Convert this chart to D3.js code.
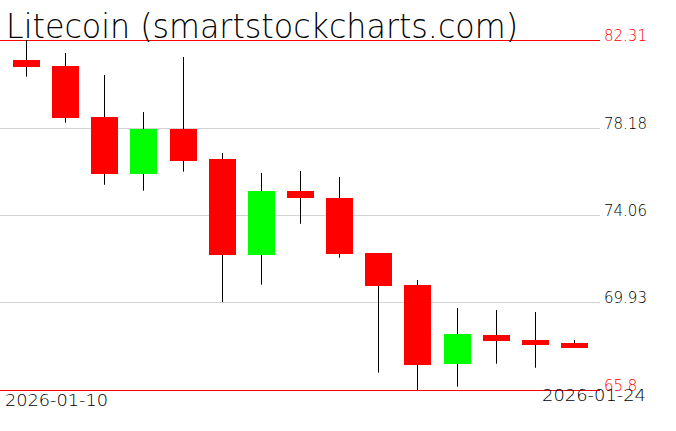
<!DOCTYPE html>
<html><head><meta charset="utf-8">
<script src="https://cdn.jsdelivr.net/npm/d3@7"></script>
<style>html,body{margin:0;padding:0;background:#fff;overflow:hidden}</style>
</head><body>
<svg id="c" width="676" height="431"></svg>
<script>
const dates = ["2026-01-10","2026-01-11","2026-01-12","2026-01-13","2026-01-14","2026-01-15","2026-01-16","2026-01-17","2026-01-18","2026-01-19","2026-01-20","2026-01-21","2026-01-22","2026-01-23","2026-01-24"];
const opens  = [81.37, 81.08, 78.68, 76.00, 78.11, 76.70, 72.18, 75.19, 74.86, 72.26, 70.77, 67.04, 68.39, 68.16, 68.02];
const closes = [81.04, 78.64, 76.00, 78.11, 76.62, 72.18, 75.19, 74.87, 72.23, 70.72, 66.99, 68.44, 68.13, 67.94, 67.80];
const highs  = [82.31, 81.70, 80.66, 78.91, 81.51, 76.97, 76.04, 76.13, 75.85, 72.26, 70.99, 69.67, 69.57, 69.48, 68.16];
const lows   = [80.58, 78.41, 75.48, 75.20, 76.10, 69.95, 70.77, 73.64, 72.04, 66.62, 65.80, 65.96, 67.04, 66.85, 67.78];
const tickValues = [82.31, 78.18, 74.06, 69.93, 65.8];
const tickLabels = ["82.31", "78.18", "74.06", "69.93", "65.8"];
const title = "Litecoin (smartstockcharts.com)";

const svg = d3.select("#c");
const y = d3.scaleLinear().domain([65.8, 82.31]).range([390, 40]);
const x = d3.scalePoint().domain(dates).range([26.5, 574.5]);
const bw = Math.round(x.step() * 0.69);
const font = "'DejaVu Sans', sans-serif";

// grid lines and labels
tickValues.forEach((v, i) => {
  const edge = (i === 0 || i === tickValues.length - 1);
  const yy = Math.round(y(v)) + 0.5;
  svg.append("line").attr("x1", 0).attr("x2", 600).attr("y1", yy).attr("y2", yy)
    .attr("stroke", edge ? "#ff0000" : "#d3d3d3").attr("stroke-width", 1);
  svg.append("text").attr("x", 604).attr("y", Math.round(y(v)) + 1)
    .attr("font-family", font).attr("font-weight", 200).attr("font-size", 15)
    .attr("fill", edge ? "#ff0000" : "#000").text(tickLabels[i]);
});

// candles
const data = dates.map((d, i) => ({d, o: opens[i], c: closes[i], h: highs[i], l: lows[i]}));
const g = svg.append("g");
g.selectAll("line.wick").data(data).join("line").attr("class", "wick")
  .attr("x1", d => Math.floor(x(d.d)) + 0.5).attr("x2", d => Math.floor(x(d.d)) + 0.5)
  .attr("y1", d => y(d.h)).attr("y2", d => y(d.l))
  .attr("stroke", "#000").attr("stroke-width", 1);
g.selectAll("rect.body").data(data).join("rect").attr("class", "body")
  .attr("x", d => x(d.d) - bw / 2)
  .attr("width", bw)
  .attr("y", d => y(Math.max(d.o, d.c)))
  .attr("height", d => Math.max(1, Math.abs(y(d.o) - y(d.c))))
  .attr("fill", d => d.c >= d.o ? "#00ff00" : "#ff0000")
  .attr("shape-rendering", "crispEdges");

// title
svg.append("text").attr("x", 6).attr("y", 38).attr("font-family", font).attr("font-weight", 200)
  .attr("font-size", 33).attr("textLength", 512).attr("lengthAdjust", "spacingAndGlyphs")
  .attr("fill", "#000").text(title);

// date labels
svg.append("text").attr("x", 5).attr("y", 406).attr("font-family", font).attr("font-weight", 200)
  .attr("font-size", 15).attr("textLength", 103).attr("lengthAdjust", "spacingAndGlyphs")
  .attr("fill", "#000").text(dates[0]);
svg.append("text").attr("x", 542).attr("y", 401).attr("font-family", font).attr("font-weight", 200)
  .attr("font-size", 15).attr("textLength", 104).attr("lengthAdjust", "spacingAndGlyphs")
  .attr("fill", "#000").text(dates[dates.length - 1]);
</script>
</body></html>
